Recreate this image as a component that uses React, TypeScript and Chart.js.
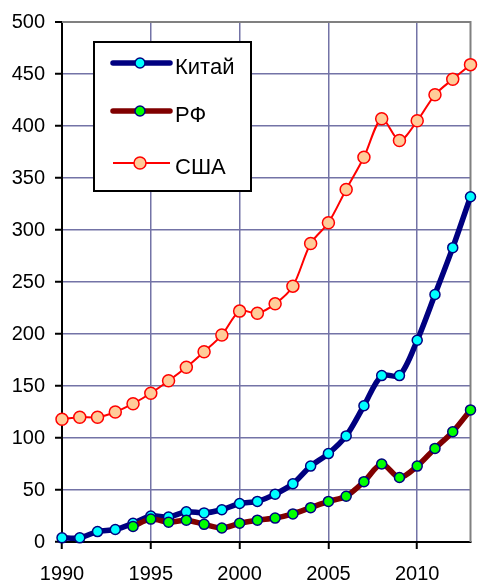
import React, { useEffect, useRef } from 'react';
import { Chart, registerables } from 'chart.js';

Chart.register(...registerables);

const years = [1990, 1991, 1992, 1993, 1994, 1995, 1996, 1997, 1998, 1999, 2000, 2001, 2002, 2003, 2004, 2005, 2006, 2007, 2008, 2009, 2010, 2011, 2012, 2013];
const china = [4, 4, 10, 12, 18, 25, 24, 29, 28, 31, 37, 39, 46, 56, 73, 85, 102, 131, 160, 160, 194, 238, 283, 332];
const russia = [null, null, null, null, 15, 22, 19, 21, 17, 13.5, 18, 21, 23, 27, 33, 39, 44, 58, 75, 62, 73, 90, 106, 127];
const usa = [118, 120, 120, 125, 133, 143, 155, 168, 183, 199, 222, 220, 229, 246, 287, 307, 339, 370, 407, 386, 405, 430, 445, 459];
const seriesNames = ['Китай', 'РФ', 'США'];

const FONT = "'Liberation Sans', Arial, sans-serif";

const frame = {
  id: 'frame',
  beforeDatasetsDraw(chart: any) {
    const { ctx, chartArea } = chart;
    ctx.save();
    ctx.strokeStyle = '#808080';
    ctx.lineWidth = 2;
    ctx.beginPath();
    ctx.moveTo(chartArea.left, chartArea.top);
    ctx.lineTo(chartArea.right, chartArea.top);
    ctx.lineTo(chartArea.right, chartArea.bottom);
    ctx.stroke();
    ctx.restore();
  },
};

const legendBox = {
  id: 'legendBox',
  afterDatasetsDraw(chart: any) {
    const { ctx } = chart;
    ctx.save();
    ctx.fillStyle = '#ffffff';
    ctx.fillRect(94, 42, 157, 149);
    ctx.strokeStyle = '#000000';
    ctx.lineWidth = 2;
    ctx.strokeRect(94, 42, 157, 149);
    const rows = [63, 111, 163];
    const lineColors = ['#000080', '#800000', '#ff0000'];
    const lineWidths = [5.5, 5.5, 2];
    const fills = ['#00ffff', '#00ff00', '#ffcc99'];
    const borders = ['#000080', '#000080', '#ff0000'];
    const radii = [5, 5, 6];
    seriesNames.forEach((name, i) => {
      const y = rows[i];
      ctx.strokeStyle = lineColors[i];
      ctx.lineWidth = lineWidths[i];
      ctx.lineCap = i < 2 ? 'round' : 'butt';
      ctx.beginPath();
      ctx.moveTo(113, y);
      ctx.lineTo(170, y);
      ctx.stroke();
      ctx.beginPath();
      ctx.arc(140, y, radii[i], 0, Math.PI * 2);
      ctx.fillStyle = fills[i];
      ctx.fill();
      ctx.lineWidth = 1.5;
      ctx.strokeStyle = borders[i];
      ctx.stroke();
      ctx.fillStyle = '#000000';
      ctx.font = `22px ${FONT}`;
      ctx.textBaseline = 'alphabetic';
      ctx.textAlign = 'left';
      ctx.fillText(name, 175, y + 11);
    });
    ctx.restore();
  },
};

export default function App() {
  const ref = useRef<HTMLCanvasElement>(null);
  useEffect(() => {
    document.body.style.margin = '0';
    const toPts = (arr: (number | null)[]) => years.map((x, i) => ({ x, y: arr[i] }));
    const chart = new Chart(ref.current as HTMLCanvasElement, {
      type: 'line',
      data: {
        datasets: [
          {
            label: seriesNames[2],
            data: toPts(usa) as any,
            borderColor: '#ff0000',
            borderWidth: 2,
            pointBackgroundColor: '#ffcc99',
            pointBorderColor: '#ff0000',
            pointBorderWidth: 1.5,
            pointRadius: 6,
            tension: 0.3,
            order: 0,
            clip: false as any,
          },
          {
            label: seriesNames[1],
            data: toPts(russia) as any,
            borderColor: '#800000',
            borderWidth: 5.5,
            pointBackgroundColor: '#00ff00',
            pointBorderColor: '#000080',
            pointBorderWidth: 1.5,
            pointRadius: 5,
            tension: 0.3,
            order: 1,
            clip: false as any,
          },
          {
            label: seriesNames[0],
            data: toPts(china) as any,
            borderColor: '#000080',
            borderWidth: 5.5,
            pointBackgroundColor: '#00ffff',
            pointBorderColor: '#000080',
            pointBorderWidth: 1.5,
            pointRadius: 5,
            tension: 0.3,
            order: 2,
            clip: false as any,
          },
        ],
      },
      options: {
        responsive: false,
        animation: false,
        layout: { padding: { top: 21, right: 7, left: 0, bottom: 0 } },
        plugins: { legend: { display: false }, tooltip: { enabled: false } },
        scales: {
          x: {
            type: 'linear',
            min: 1990,
            max: 2013,
            afterFit: (s: any) => { s.height = 42; },
            ticks: {
              stepSize: 5,
              includeBounds: false,
              color: '#000',
              font: { family: FONT, size: 20 },
              padding: 13,
              maxRotation: 0,
              callback: (v: any) => String(v),
            },
            grid: {
              color: '#7373a6',
              lineWidth: 1.5,
              tickLength: 7,
              tickColor: '#000',
              tickWidth: 2,
            },
            border: { color: '#000', width: 2 },
          },
          y: {
            min: 0,
            max: 500,
            afterFit: (s: any) => { s.width = 62; },
            ticks: {
              stepSize: 50,
              color: '#000',
              font: { family: FONT, size: 20 },
              padding: 10,
            },
            grid: {
              color: (c: any) => (c.tick && c.tick.value === 500 ? '#808080' : '#7373a6'),
              lineWidth: (c: any) => (c.tick && c.tick.value === 500 ? 2 : 1.5),
              tickLength: 7,
              tickColor: '#000',
              tickWidth: 2,
            },
            border: { color: '#000', width: 2 },
          },
        },
      },
      plugins: [frame, legendBox],
    } as any);
    return () => chart.destroy();
  }, []);
  return (
    <div style={{ position: 'absolute', left: 0, top: 0, width: 478, height: 584, background: '#fff' }}>
      <canvas ref={ref} width={478} height={584} />
    </div>
  );
}
